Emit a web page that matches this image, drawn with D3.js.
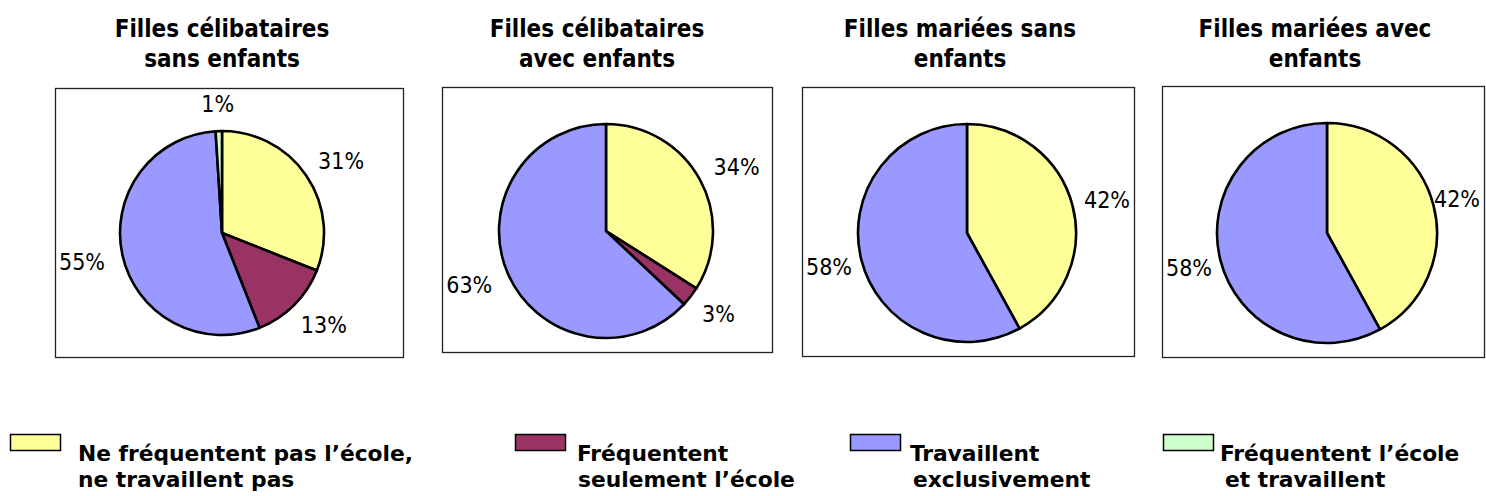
<!DOCTYPE html>
<html>
<head>
<meta charset="utf-8">
<script src="https://cdn.jsdelivr.net/npm/d3@7"></script>
<style>
    body { margin: 0; background: #fff; }
    .title { font-family: "DejaVu Sans Condensed", "DejaVu Sans", sans-serif; font-weight: bold; font-size: 24px; fill: #000; }
    .pct { font-family: "DejaVu Sans Condensed", "DejaVu Sans", sans-serif; font-size: 23px; fill: #000; }
    .legendText { font-family: "DejaVu Sans Condensed", "DejaVu Sans", sans-serif; font-weight: bold; font-size: 22px; fill: #000; }
</style>
</head>
<body>
<svg id="chart" width="1486" height="496"></svg>
<script>
// data
let categories = [
    ["Ne fréquentent pas l’école,", "ne travaillent pas"],
    ["Fréquentent", "seulement l’école"],
    ["Travaillent", "exclusivement"],
    ["Fréquentent l’école", "et travaillent"]
]
let groupTitles = [
    ["Filles célibataires", "sans enfants"],
    ["Filles célibataires", "avec enfants"],
    ["Filles mariées sans", "enfants"],
    ["Filles mariées avec", "enfants"]
]
let singleNoChild = [31, 13, 55, 1]
let singleWithChild = [34, 3, 63, 0]
let marriedNoChild = [42, 0, 58, 0]
let marriedWithChild = [42, 0, 58, 0]
let seriesValues = [singleNoChild, singleWithChild, marriedNoChild, marriedWithChild]
let colors = ["#ffff99", "#993366", "#9999ff", "#ccffcc"]

// layout of the four panels (frame + pie) and of the legend
let panels = [
    { box: [55, 88, 348, 269], cx: 222, cy: 233, r: 102, titleX: 222 },
    { box: [442, 87, 330, 265], cx: 606, cy: 231, r: 107, titleX: 597 },
    { box: [802, 87, 332, 269], cx: 967, cy: 233, r: 109, titleX: 960 },
    { box: [1162, 86, 322, 271], cx: 1327, cy: 233, r: 110, titleX: 1315 }
]
let legendPos = [
    { x: 10, tx: 68, indent: 0 },
    { x: 515, tx: 62, indent: 1 },
    { x: 850, tx: 60, indent: 3 },
    { x: 1163, tx: 57, indent: 5 }
]
// legend text is a bit wider than the font
let legendStretch = 1.1

let svg = d3.select("#chart")

let color = d3.scaleOrdinal()
    .domain(d3.range(categories.length))
    .range(colors)

let pie = d3.pie()
    .sort(null)
    .value(function (d) { return d.v })

panels.forEach(function (p, i) {
    // title
    let title = svg.append("text")
        .attr("class", "title")
        .attr("text-anchor", "middle")
    groupTitles[i].forEach(function (line, j) {
        title.append("tspan")
            .attr("x", p.titleX)
            .attr("y", 37 + j * 30)
            .text(line)
    })

    // frame
    svg.append("rect")
        .attr("x", p.box[0] + 0.5)
        .attr("y", p.box[1] + 0.5)
        .attr("width", p.box[2])
        .attr("height", p.box[3])
        .attr("fill", "none")
        .attr("stroke", "#222")
        .attr("stroke-width", 1.3)

    let arc = d3.arc()
        .innerRadius(0)
        .outerRadius(p.r)

    let g = svg.append("g")
        .attr("transform", "translate(" + p.cx + "," + p.cy + ")")

    // zero slices are not drawn
    let slices = pie(seriesValues[i]
        .map(function (v, k) { return { v: v, k: k } })
        .filter(function (d) { return d.v > 0 }))

    g.selectAll("path")
        .data(slices)
        .enter()
        .append("path")
        .attr("d", arc)
        .attr("fill", function (d) { return color(d.data.k) })
        .attr("stroke", "#000")
        .attr("stroke-width", 2.6)
        .attr("stroke-linejoin", "round")

    // percent labels, just outside the middle of each slice, kept inside the frame
    g.selectAll("text")
        .data(slices)
        .enter()
        .append("text")
        .attr("class", "pct")
        .attr("text-anchor", "middle")
        .text(function (d) { return d.data.v + "%" })
        .each(function (d) {
            let a = (d.startAngle + d.endAngle) / 2
            let w = this.getComputedTextLength()
            let h = 17
            let R = p.r + 19
            let x = R * Math.sin(a) + Math.sin(a) * w / 2
            let y = -R * Math.cos(a) - Math.cos(a) * h / 2
            let minX = p.box[0] - p.cx + w / 2 + 4
            let maxX = p.box[0] + p.box[2] - p.cx - w / 2 - 4
            x = Math.max(minX, Math.min(maxX, x))
            d3.select(this)
                .attr("x", x)
                .attr("y", y + h / 2)
        })
})

// legend
let legend = svg.selectAll(".legendItem")
    .data(categories)
    .enter()
    .append("g")
    .attr("class", "legendItem")
    .attr("transform", function (d, i) { return "translate(" + legendPos[i].x + ",0)" })

legend.append("rect")
    .attr("x", 0.5)
    .attr("y", 434.5)
    .attr("width", 50)
    .attr("height", 16)
    .attr("fill", function (d, i) { return color(i) })
    .attr("stroke", "#000")
    .attr("stroke-width", 1.5)

legend.each(function (d, i) {
    let item = d3.select(this)
    d.forEach(function (line, j) {
        item.append("text")
            .attr("class", "legendText")
            .attr("transform", "translate(" + (legendPos[i].tx + j * legendPos[i].indent) + "," + (461 + j * 26) + ") scale(" + legendStretch + ",1)")
            .text(line)
    })
})
</script>
</body>
</html>
